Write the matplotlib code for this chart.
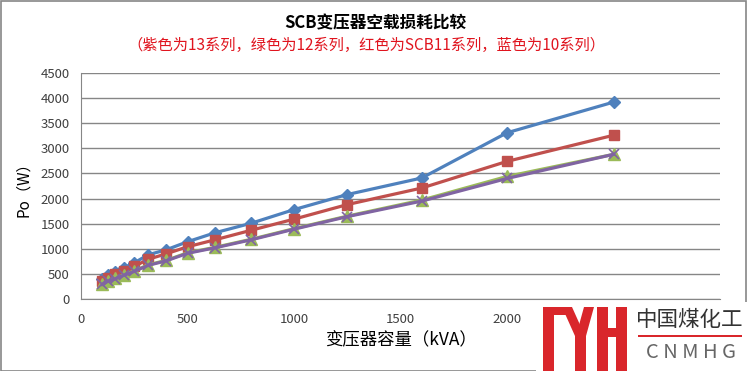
import matplotlib.pyplot as plt
from matplotlib.patches import Rectangle, Polygon

plt.rcParams['font.family'] = ['Noto Sans CJK SC', 'DejaVu Sans']

# capacity (kVA) and no-load loss Po (W) per series
capacity = [100, 125, 160, 200, 250, 315, 400, 500, 630, 800, 1000, 1250, 1600, 2000, 2500]
scb10 = [400, 470, 540, 620, 720, 880, 980, 1140, 1320, 1510, 1780, 2080, 2410, 3310, 3920]
scb11 = [360, 420, 490, 560, 650, 790, 900, 1040, 1180, 1370, 1590, 1880, 2210, 2740, 3260]
scb12 = [300, 360, 410, 480, 560, 680, 770, 920, 1030, 1190, 1400, 1650, 1970, 2440, 2880]
scb13 = [290, 350, 400, 470, 550, 670, 760, 910, 1020, 1180, 1390, 1640, 1950, 2400, 2880]

# the 2500 / 3000 labels sit under the watermark, so only these are visible
xticks = [0, 500, 1000, 1500, 2000]
yticks = list(range(0, 4501, 500))

W, H = 747, 371
fig = plt.figure(figsize=(W / 100, H / 100), dpi=100)
ax = fig.add_axes([81 / W, (H - 299) / H, (720 - 81) / W, (299 - 73) / H])

ax.plot(capacity, scb10, color='#4F81BD', lw=2.3, marker='D', ms=6, label='SCB10')
ax.plot(capacity, scb11, color='#C0504D', lw=2.3, marker='s', ms=7, label='SCB11')
ax.plot(capacity, scb12, color='#9BBB59', lw=2.3, marker='^', ms=8, label='SCB12')
ax.plot(capacity, scb13, color='#8064A2', lw=2.3, marker='x', ms=7, mew=1.2, label='SCB13')

ax.set_xlim(0, 3000)
ax.set_ylim(0, 4500)
ax.set_xticks(xticks)
ax.set_yticks(yticks)
ax.tick_params(length=0, labelsize=9.5, colors='#404040')
ax.tick_params(axis='x', pad=10)
ax.tick_params(axis='y', pad=8)
ax.grid(axis='y', color='#868686', lw=1)
ax.set_axisbelow(True)
for s in ['top', 'right']:
    ax.spines[s].set_visible(False)
for s in ['left', 'bottom']:
    ax.spines[s].set_color('#868686')

ax.set_xlabel('变压器容量（kVA）', fontsize=12.5, labelpad=4)
ax.set_ylabel('Po（W）', fontsize=11, labelpad=6)

fig.text(375 / W, 1 - 23 / H, 'SCB变压器空载损耗比较', ha='center', va='center',
         fontsize=12, fontweight='bold')
fig.text(366 / W, 1 - 45 / H, '（紫色为13系列，绿色为12系列，红色为SCB11系列，蓝色为10系列）',
         ha='center', va='center', fontsize=11, color='#E0141E')

# figure border
fig.patches.append(Rectangle((0.5 / W, 0.5 / H), 1 - 1.5 / W, 1 - 1.5 / H, transform=fig.transFigure,
                             fill=False, ec='#868686', lw=1.2))

# watermark logo
def px(x, y):
    return (x / W, 1 - y / H)

red = '#D9262B'
fig.patches.append(Rectangle(px(536, 371), 211 / W, 69 / H, transform=fig.transFigure,
                             fc='white', ec='none', zorder=5))
shapes = [
    [(543, 307), (554, 307), (554, 371), (543, 371)],
    [(543, 307), (568, 307), (568, 315), (543, 315)],
    [(562, 307), (572, 307), (585, 336), (575, 336)],
    [(584, 307), (594, 307), (586, 336), (576, 336)],
    [(575, 334), (586, 334), (586, 371), (575, 371)],
    [(597, 307), (608, 307), (608, 371), (597, 371)],
    [(608, 328), (616, 328), (616, 337), (608, 337)],
    [(616, 307), (627, 307), (627, 371), (616, 371)],
]
for pts in shapes:
    fig.patches.append(Polygon([px(*p) for p in pts], closed=True, transform=fig.transFigure,
                               fc=red, ec='none', zorder=6))
fig.patches.append(Rectangle(px(638, 337), 104 / W, 2 / H, transform=fig.transFigure,
                             fc=red, ec='none', zorder=6))
fig.text(690 / W, 1 - 320 / H, '中国煤化工', ha='center', va='center', fontsize=15.5,
         color='#333333', zorder=7)
fig.text(691 / W, 1 - 353 / H, 'C N M H G', ha='center', va='center', fontsize=14.5,
         color='#666666', zorder=7, fontweight='light')

fig.savefig('out.png', dpi=100)
